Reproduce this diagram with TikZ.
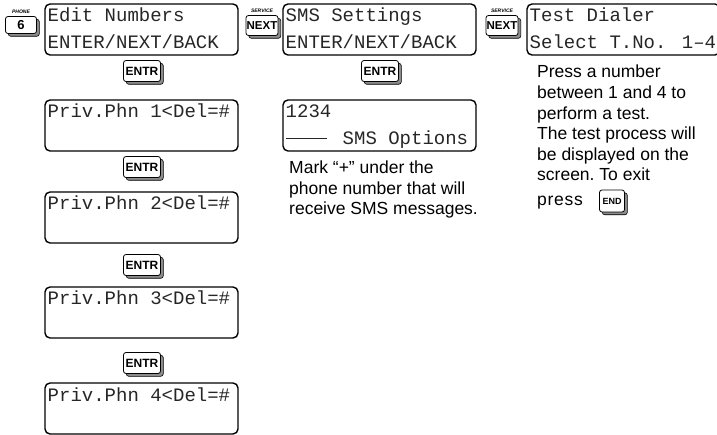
\documentclass[tikz,border=0pt]{standalone}
\usepackage{fontspec}
\setmainfont{Liberation Sans}
\newfontfamily\lcdfont{Liberation Mono}
\usetikzlibrary{shadows}
\tikzset{
  lcdbox/.style={draw, line width=1.4pt, rounded corners=5pt, minimum width=193pt, minimum height=51pt, inner sep=0pt, outer sep=0pt, anchor=north west},
  lcdtext/.style={font=\lcdfont\fontsize{19}{19}\selectfont\frenchspacing, inner sep=0pt, anchor=base west, text=black!85},
  keybox/.style={draw, line width=0.8pt, rounded corners=2.5pt, fill=white, inner sep=0pt,
    drop shadow={shadow xshift=2.8pt, shadow yshift=-2.8pt, fill=black!45, draw=black, line width=0.6pt, opacity=1}},
  entrkey/.style={keybox, minimum width=37pt, minimum height=21pt, font=\bfseries\fontsize{12}{12}\selectfont},
  nextkey/.style={keybox, minimum width=32pt, minimum height=20pt, font=\bfseries\fontsize{11.5}{11.5}\selectfont},
  keylabel/.style={font=\bfseries\itshape\fontsize{5}{5}\selectfont, inner sep=0pt},
  note/.style={font=\fontsize{17.5}{20.5}\selectfont\frenchspacing, inner sep=0pt, anchor=base west},
}
\newcommand{\lcdpanel}[5]{%
  \node[lcdbox] (#1) at (#2,#3) {};
  \node[lcdtext] (#1-a) at ([xshift=2.5pt,yshift=-18pt]#1.north west) {#4};
  \node[lcdtext] (#1-b) at ([xshift=2.5pt,yshift=-44.5pt]#1.north west) {#5};
}
\begin{document}
\begin{tikzpicture}[x=1pt,y=-1pt]
\useasboundingbox (0,0) rectangle (717,435);
\begin{scope}
\clip (0,0) rectangle (717,435);

% top row
\node[keybox, minimum width=31pt, minimum height=17pt, font=\bfseries\fontsize{13}{13}\selectfont] (k6) at (21,25) {6};
\node[keylabel] (k6l) at (21,12) {PHONE};
\lcdpanel{edit}{45}{4}{Edit Numbers}{ENTER/NEXT/BACK}

\node[nextkey] (next1) at (262,25.5) {NEXT};
\node[keylabel] (next1l) at (262,11) {SERVICE};
\lcdpanel{sms}{283}{4}{SMS Settings}{ENTER/NEXT/BACK}

\node[nextkey] (next2) at (502,25.5) {NEXT};
\node[keylabel] (next2l) at (502,11) {SERVICE};
\lcdpanel{test}{527}{4}{Test Dialer}{Select T.No.\ \hspace{4pt}1–4}

% left column
\node[entrkey] (e1) at (142,71) {ENTR};
\lcdpanel{p1}{45}{100}{Priv.Phn 1<Del=\#}{}
\node[entrkey] (e2) at (142,167) {ENTR};
\lcdpanel{p2}{45}{192}{Priv.Phn 2<Del=\#}{}
\node[entrkey] (e3) at (142,265) {ENTR};
\lcdpanel{p3}{45}{287}{Priv.Phn 3<Del=\#}{}
\node[entrkey] (e4) at (142,363) {ENTR};
\lcdpanel{p4}{45}{383}{Priv.Phn 4<Del=\#}{}

% middle column
\node[entrkey] (e5) at (380,71) {ENTR};
\lcdpanel{opt}{283}{100}{1234}{\makebox[45.6pt][l]{\rule[0.28em]{41pt}{0.9pt}} SMS Options}
\node[note] (m1) at (289,174) {Mark “+” under the};
\node[note] (m2) at (289,194.5) {phone number that will};
\node[note] (m3) at (289,215) {receive SMS messages.};

% right column
\node[note] (r1) at (537,78) {Press a number};
\node[note] (r2) at (537,98.6) {between 1 and 4 to};
\node[note] (r3) at (537,119.2) {perform a test.};
\node[note] (r4) at (537,139.8) {The test process will};
\node[note] (r5) at (537,160.4) {be displayed on the};
\node[note] (r6) at (537,181) {screen. To exit};
\node[note, font=\fontsize{17.5}{20.5}\selectfont\addfontfeature{LetterSpace=4}] (r7) at (537,206) {press};
\node[keybox, minimum width=25pt, minimum height=22pt, font=\bfseries\fontsize{9}{9}\selectfont] (endk) at (612,201) {END};
\end{scope}
\end{tikzpicture}
\end{document}
